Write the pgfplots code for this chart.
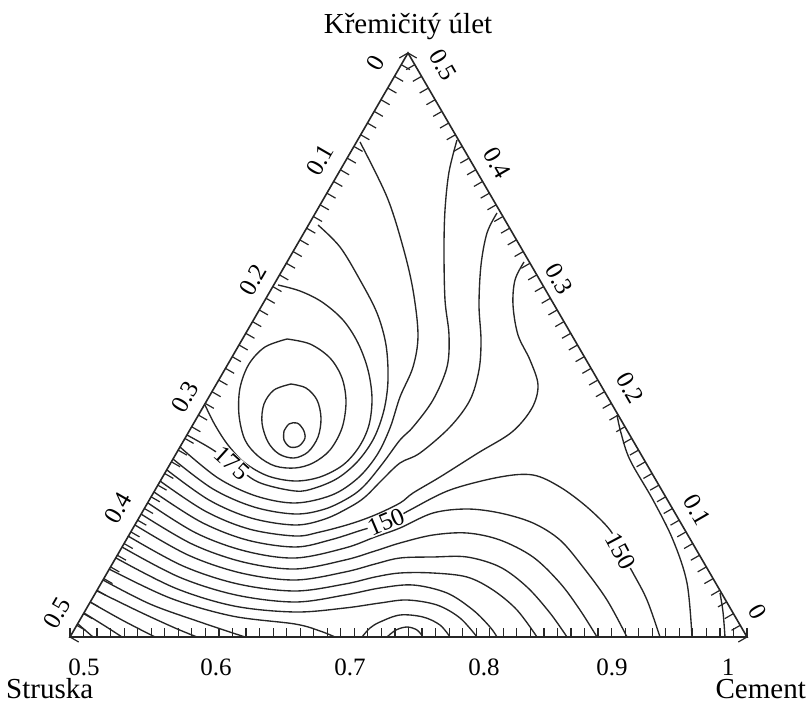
\documentclass[border=0pt]{standalone}
\usepackage{fontspec}
\setmainfont{Liberation Serif}
\usepackage{pgfplots}
\pgfplotsset{compat=1.18}
\pgfplotsset{
  cnt/.style={color=black!85, line width=1.35pt, smooth, tension=0.55, mark=none},
  edge/.style={color=black!85, line width=1.6pt, mark=none},
}
\newcommand\tl{\fontsize{25}{25}\selectfont}
\newcommand\bl{\fontsize{29}{29}\selectfont}
\begin{document}
\begin{tikzpicture}
\begin{axis}[width=809pt, height=703pt, scale only axis,
  xmin=0, xmax=809, ymin=0, ymax=703, y dir=reverse,
  hide axis, clip=false]
\path (axis cs:0,0) rectangle (axis cs:809,703);

% closed contours round the peak
\addplot[cnt] coordinates {(284,431) (289,424) (297,423) (303,429) (305,438) (299,446) (290,447) (284,440) (284,431)};
\addplot[cnt] coordinates {(291,384) (306,388) (317,400) (321,418) (318,437) (308,452) (294,458) (279,454) (268,442) (262,423) (264,404) (274,390) (291,384)};
\addplot[cnt] coordinates {(287,339) (310,344) (330,358) (342,378) (346,402) (342,428) (330,450) (313,463) (295,468) (275,466) (258,456) (245,440) (239,415) (240,388) (249,364) (265,347) (287,339)};

% lines round the peak, ending on the edges
\addplot[cnt] coordinates {(278,285) (300,291) (322,302) (343,320) (358,343) (368,370) (372,398) (369,425) (359,447) (343,465) (320,477) (295,481) (268,476) (245,463) (228,445) (215,425) (205,405)};
\addplot[cnt] coordinates {(318,225) (340,247) (360,280) (377,313) (386,345) (388,380) (384,410) (374,438) (358,461) (338,478) (315,488) (295,491) (258,482) (232,463) (210,448) (187,435)};
\addplot[cnt] coordinates {(360,142) (387,197) (403,247) (413,290) (418,335) (413,367) (400,397) (390,428) (377,455) (358,478) (332,495) (295,503) (256,496) (218,478) (180,447)};
\addplot[cnt] coordinates {(457,140) (449,172) (445,210) (444,250) (445,300) (449,335) (447,367) (433,400) (413,427) (400,440) (383,463) (365,485) (350,497) (325,509) (295,514) (254,507) (213,489) (173,459)};
\addplot[cnt] coordinates {(497,213) (487,233) (481,265) (479,305) (481,340) (479,370) (470,400) (450,427) (420,453) (400,463) (382,480) (365,497) (350,507) (325,519) (295,525) (251,518) (209,500) (167,470)};
\addplot[cnt] coordinates {(524,262) (515,280) (513,305) (518,335) (530,360) (538,385) (532,408) (512,432) (478,453) (440,477) (413,493) (400,503) (375,515) (350,524) (320,532) (295,536) (249,529) (205,511) (160,481)};

% lower lines, left edge to bottom
\addplot[cnt] coordinates {(154,492) (201,522) (247,540) (295,547) (330,540) (362,530) (388,522) (410,510) (450,490) (500,477) (533,475) (560,487) (587,507) (610,530) (620,550) (633,573) (647,600) (660,637)};
\addplot[cnt] coordinates {(148,503) (196,533) (245,551) (295,558) (345,548) (375,537) (400,528) (433,513) (467,509) (500,513) (533,523) (560,540) (583,567) (607,600) (627,637)};
\addplot[cnt] coordinates {(141,514) (192,544) (243,562) (295,569) (345,560) (375,551) (400,543) (433,535) (467,533) (500,540) (533,557) (560,583) (580,610) (597,637)};
\addplot[cnt] coordinates {(135,525) (188,555) (241,573) (295,580) (345,572) (375,564) (400,558) (433,557) (467,557) (500,567) (527,587) (550,613) (567,637)};
\addplot[cnt] coordinates {(128,536) (183,566) (238,584) (295,591) (345,584) (375,577) (400,573) (433,573) (467,577) (493,590) (517,610) (537,637)};
\addplot[cnt] coordinates {(122,547) (179,577) (236,595) (295,602) (345,595) (380,588) (413,585) (447,593) (473,610) (490,627) (497,637)};
\addplot[cnt] coordinates {(116,558) (175,588) (234,606) (295,612) (345,608) (380,603) (407,600) (437,605) (460,618) (477,637)};
\addplot[cnt] coordinates {(109,569) (170,598) (232,616) (295,624) (320,631) (335,637)};
\addplot[cnt] coordinates {(362,637) (370,628) (380,622) (400,615) (423,617) (440,625) (450,637)};
\addplot[cnt] coordinates {(387,637) (396,630) (407,627) (417,630) (423,637)};
\addplot[cnt] coordinates {(103,580) (150,604) (200,622) (245,637)};
\addplot[cnt] coordinates {(97,591) (140,612) (175,628) (197,637)};
\addplot[cnt] coordinates {(90,602) (122,620) (155,637)};
\addplot[cnt] coordinates {(84,613) (105,626) (122,637)};
\addplot[cnt] coordinates {(78,624) (93,637)};

% near the right edge
\addplot[cnt] coordinates {(617,415) (621,433) (630,460) (653,500) (673,540) (687,583) (692,637)};
\addplot[cnt] coordinates {(720,593) (723,612) (725,637)};

% triangle
\addplot[edge] coordinates {(70,637) (747,637) (408,53) (70,637) (747,637)};

% ticks
\pgfplotsinvokeforeach{0,...,50}{
  \draw[black!85, line width=1.2pt] (axis cs:{70+6.76*#1},{637-11.68*#1}) -- ++(8.7pt,-5pt);
  \draw[black!85, line width=1.2pt] (axis cs:{747-6.78*#1},{637-11.68*#1}) -- ++(-8.7pt,-5pt);
  \draw[black!85, line width=1.2pt] (axis cs:{70+13.54*#1},637) -- ++(0,9.5pt);
}

% contour labels
\node[fill=white, inner sep=0.5pt, rotate=-42] at (axis cs:232,463) {\tl 175};
\node[fill=white, inner sep=0.5pt, rotate=23] at (axis cs:386,522) {\tl 150};
\node[fill=white, inner sep=0.5pt, rotate=-62] at (axis cs:621,551) {\tl 150};

% tick labels
\node at (axis cs:84,667) {\tl 0.5};
\node at (axis cs:216,667) {\tl 0.6};
\node at (axis cs:350,667) {\tl 0.7};
\node at (axis cs:484,667) {\tl 0.8};
\node at (axis cs:612,667) {\tl 0.9};
\node at (axis cs:728,667) {\tl 1};
\node[rotate=60] at (axis cs:376,63) {\tl 0};
\node[rotate=60] at (axis cs:320,160) {\tl 0.1};
\node[rotate=60] at (axis cs:253,280) {\tl 0.2};
\node[rotate=60] at (axis cs:185,397) {\tl 0.3};
\node[rotate=60] at (axis cs:118,508) {\tl 0.4};
\node[rotate=60] at (axis cs:57,613) {\tl 0.5};
\node[rotate=-60] at (axis cs:443,65) {\tl 0.5};
\node[rotate=-60] at (axis cs:497,163) {\tl 0.4};
\node[rotate=-60] at (axis cs:559,279) {\tl 0.3};
\node[rotate=-60] at (axis cs:630,388) {\tl 0.2};
\node[rotate=-60] at (axis cs:697,510) {\tl 0.1};
\node[rotate=-60] at (axis cs:758,612) {\tl 0};

% corner names
\node at (axis cs:408,27) {\bl Křemičitý úlet};
\node[anchor=base west, inner sep=0pt] at (axis cs:6,698) {\bl Struska};
\node[anchor=base east, inner sep=0pt] at (axis cs:806,698) {\bl Cement};
\end{axis}
\end{tikzpicture}
\end{document}
